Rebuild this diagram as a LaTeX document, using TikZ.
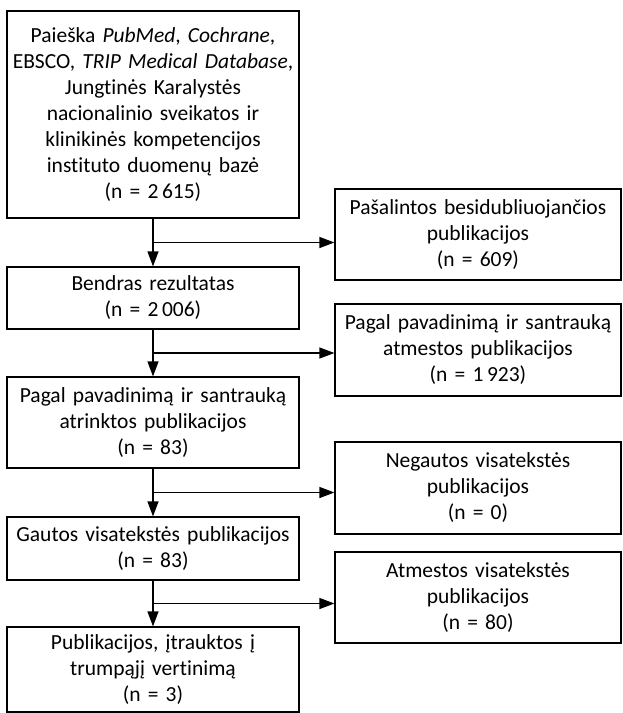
\documentclass[tikz,border=0pt]{standalone}
\usepackage{fontspec}
\setmainfont{Carlito}[Ligatures={NoCommon}]
\usetikzlibrary{arrows.meta,calc}

\tikzset{
  box/.style={draw, line width=1.2pt, align=center, inner xsep=1pt, inner ysep=3pt,
    text width=#1, font=\fontsize{21.5}{26}\selectfont},
  box/.default=290pt,
  flow/.style={-{Triangle[length=15pt,width=11pt]}, line width=1.2pt},
}

\begin{document}
\begin{tikzpicture}[x=1pt,y=-1pt]
    \useasboundingbox (0,0) rectangle (622,713);

    % left column
    \node[box, minimum height=207pt] (search) at (153,114.5) {Paieška \textit{PubMed}, \textit{Cochrane},\\ EBSCO, \textit{TRIP Medical Database},\\ Jungtinės Karalystės\\ nacionalinio sveikatos ir\\ klinikinės kompetencijos\\ instituto duomenų bazė\\ (n = 2\,615)};
    \node[box, minimum height=62pt] (total) at (153,298) {Bendras rezultatas\\ (n = 2\,006)};
    \node[box, minimum height=91pt] (screened) at (153,422.5) {Pagal pavadinimą ir santrauką\\ atrinktos publikacijos\\ (n = 83)};
    \node[box, minimum height=63pt] (fulltext) at (153,548.5) {Gautos visatekstės publikacijos\\ (n = 83)};
    \node[box, minimum height=85pt] (included) at (153,669.5) {Publikacijos, įtrauktos į\\ trumpąjį vertinimą\\ (n = 3)};

    % right column
    \node[box=284pt, minimum height=91pt] (dupl) at (478,234.5) {Pašalintos besidubliuojančios\\ publikacijos\\ (n = 609)};
    \node[box=284pt, minimum height=92pt] (excl) at (478,350) {Pagal pavadinimą ir santrauką\\ atmestos publikacijos\\ (n = 1\,923)};
    \node[box=284pt, minimum height=92pt] (missing) at (478,488) {Negautos visatekstės\\ publikacijos\\ (n = 0)};
    \node[box=284pt, minimum height=91pt] (rejected) at (478,597.5) {Atmestos visatekstės\\ publikacijos\\ (n = 80)};

    % junctions
    \coordinate (j1) at ($(search.south)!.5!(total.north)$);
    \coordinate (j2) at ($(total.south)!.5!(screened.north)$);
    \coordinate (j3) at ($(screened.south)!.5!(fulltext.north)$);
    \coordinate (j4) at ($(fulltext.south)!.5!(included.north)$);

    \draw[flow] (search) -- (total);
    \draw[flow] (total) -- (screened);
    \draw[flow] (screened) -- (fulltext);
    \draw[flow] (fulltext) -- (included);

    \draw[flow] (j1) -- (j1 -| dupl.west);
    \draw[flow] (j2) -- (j2 -| excl.west);
    \draw[flow] (j3) -- (j3 -| missing.west);
    \draw[flow] (j4) -- (j4 -| rejected.west);
\end{tikzpicture}
\end{document}
